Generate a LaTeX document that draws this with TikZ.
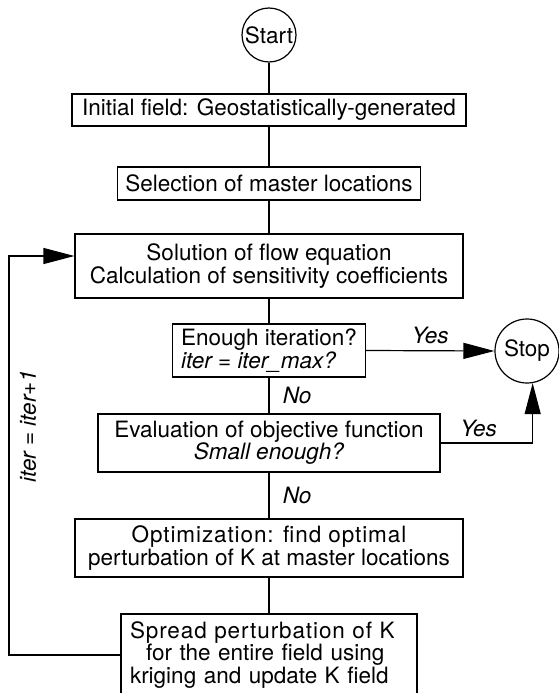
\documentclass[tikz,border=0pt]{standalone}
\usepackage{fontspec}
\setmainfont{TeX Gyre Heros}
\usetikzlibrary{arrows.meta, positioning}
\newcommand{\spacedtext}[1]{{\addfontfeature{LetterSpace=4}#1}}

\begin{document}
\begin{tikzpicture}[x=1pt,y=-1pt,
    every node/.style={font=\fontsize{22.5}{22}\selectfont},
    box/.style={draw,line width=1.2pt,inner sep=0pt,align=center},
    term/.style={draw,circle,line width=1.2pt,inner sep=0pt},
    flow/.style={line width=1.2pt},
    flowarrow/.style={line width=1.2pt,-{Triangle[length=31pt,width=16pt]}},
    lbl/.style={font=\fontsize{22.5}{22}\selectfont\itshape}]
    \useasboundingbox (0,0) rectangle (559,693);

    \node[term,minimum size=54pt] (start) at (269,35) {Start};
    \node[box,minimum width=394pt,minimum height=32pt] (init) at (269,110)
        {Initial field: Geostatistically-generated};
    \node[box,minimum width=303pt,minimum height=33pt] (select) at (269,183.5)
        {Selection of master locations};
    \node[box,minimum width=388pt,minimum height=64pt,font=\fontsize{22.5}{23}\selectfont] (solve) at (269,266)
        {Solution of flow equation\\Calculation of sensitivity coefficients};
    \node[box,align=left,minimum width=193pt,minimum height=53pt,font=\fontsize{22.5}{19}\selectfont] (enough) at (269,350.5)
        {Enough iteration?\\\textit{iter = iter\_max?}};
    \node[term,minimum size=64pt] (stop) at (527,351) {Stop};
    \node[box,minimum width=342pt,minimum height=58pt] (eval) at (269,443)
        {Evaluation of objective function\\\textit{Small enough?}};
    \node[box,minimum width=388pt,minimum height=58pt,font=\fontsize{22.5}{21}\selectfont] (optim) at (269,548)
        {\spacedtext{Optimization: find optimal}\\perturbation of K at master locations};
    \node[box,align=left,text width=278pt,minimum width=296pt,minimum height=82pt,font=\fontsize{22.5}{20.5}\selectfont] (spread) at (269,655)
        {\spacedtext{Spread perturbation of K}\\\hspace*{16pt}for the entire field using\\kriging and update K field};

    \draw[flow] (start) -- (init);
    \draw[flow] (init) -- (select);
    \draw[flow] (select) -- (solve);
    \draw[flow] (solve) -- (enough);
    \draw[flow] (enough) -- node[lbl,right=10pt] {No} (eval);
    \draw[flow] (eval) -- node[lbl,right=10pt] {No} (optim);
    \draw[flow] (optim) -- (spread);

    \draw[flowarrow] (enough.east) -- node[lbl,above=3pt] {Yes} (stop.west);
    \draw[flowarrow] (eval.east) -- node[lbl,above=2pt,xshift=-8pt] {Yes} (eval.east -| stop.280) -- (stop.280);

    % back to the flow solution
    \coordinate (back) at (9,256);
    \draw[flowarrow] (spread.west) -| (back) -- (back -| solve.west);
    \node[lbl,rotate=90] (iterlbl) at (28,426) {iter = iter+1};
\end{tikzpicture}
\end{document}
